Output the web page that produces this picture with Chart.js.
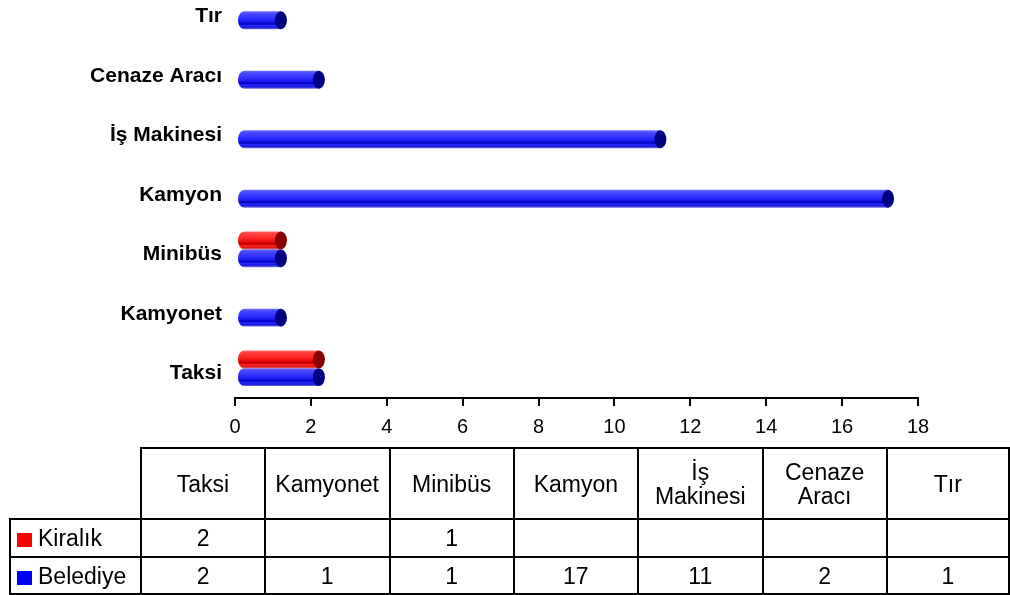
<!DOCTYPE html>
<html>
<head>
<meta charset="utf-8">
<script src="https://cdn.jsdelivr.net/npm/chart.js@4/dist/chart.umd.min.js"></script>
<style>
  html, body { margin: 0; padding: 0; background: #fff; width: 1010px; height: 595px; overflow: hidden; position: relative; font-family: "Liberation Sans", Arial, sans-serif; }
  #wrap { position: absolute; left: 0; top: -44px; width: 1010px; height: 492px; }
  #tbl { position: absolute; left: 9px; top: 447px; border-collapse: collapse; table-layout: fixed; font-size: 23px; color: #000; }
  #tbl td { border: 2px solid #000; text-align: center; vertical-align: middle; padding: 0 6px; line-height: 24px; }
  #tbl td.corner { border: none; }
  #tbl td.leg { text-align: left; padding-left: 6px; padding-right: 0; white-space: nowrap; }
  .sw { display: inline-block; width: 15px; height: 14px; margin-right: 6px; vertical-align: -1px; }
</style>
</head>
<body>
<div id="wrap"><canvas id="c" width="1010" height="492"></canvas></div>
<table id="tbl"></table>
<script>
// ---- data ----
const categories = ["Tır", "Cenaze Aracı", "İş Makinesi", "Kamyon", "Minibüs", "Kamyonet", "Taksi"];
const kiralik   = [null, null, null, null, 1, null, 2];
const belediye  = [1, 2, 11, 17, 1, 1, 2];
const seriesNames = ["Kiralık", "Belediye"];
const xTicks = [0, 2, 4, 6, 8, 10, 12, 14, 16, 18];
// table order (bottom-to-top of chart)
const tableCategories = categories.slice().reverse();

const FONT = '"Liberation Sans", Arial, sans-serif';

const styles = [
  { stops: [[0,'#ff6a6a'],[0.12,'#ff4040'],[0.35,'#ff2a2a'],[0.55,'#f01010'],[0.66,'#d00000'],[0.72,'#b80000'],[0.78,'#ff2020'],[0.9,'#e01a1a'],[1,'#d87070']], cap: '#8a0000', main: '#ff0000' },
  { stops: [[0,'#7070ff'],[0.12,'#4a4aff'],[0.35,'#3535ff'],[0.55,'#2020f5'],[0.66,'#0a0ad8'],[0.72,'#0000b8'],[0.78,'#2a2aff'],[0.9,'#1818e0'],[1,'#7878d8']], cap: '#000080', main: '#0000ff' }
];

const cylinderPlugin = {
  id: 'cylinders',
  beforeDatasetDraw(chart, args) {
    const ctx = chart.ctx;
    const meta = args.meta;
    const st = styles[args.index];
    const dx = 8;
    ctx.save();
    meta.data.forEach((bar, i) => {
      const v = chart.data.datasets[args.index].data[i];
      if (v === null || v === undefined) return;
      const p = bar.getProps(['x', 'y', 'base', 'height'], true);
      const h = p.height;
      const top = p.y - h / 2, bot = p.y + h / 2;
      const xs = p.base + dx, xe = p.x + dx;
      const rx = 6, ry = h / 2;
      const g = ctx.createLinearGradient(0, top, 0, bot);
      st.stops.forEach(s => g.addColorStop(s[0], s[1]));
      ctx.beginPath();
      ctx.ellipse(xs, p.y, rx, ry, 0, Math.PI / 2, Math.PI * 1.5);
      ctx.lineTo(xe, top);
      ctx.lineTo(xe, bot);
      ctx.closePath();
      ctx.fillStyle = g;
      ctx.fill();
      ctx.beginPath();
      ctx.ellipse(xe, p.y, rx, ry, 0, 0, Math.PI * 2);
      ctx.fillStyle = st.cap;
      ctx.fill();
    });
    ctx.restore();
    return false;
  }
};

new Chart(document.getElementById('c'), {
  type: 'bar',
  data: {
    labels: categories,
    datasets: [
      { label: seriesNames[0], data: kiralik, backgroundColor: styles[0].main, categoryPercentage: 0.6, barPercentage: 1 },
      { label: seriesNames[1], data: belediye, backgroundColor: styles[1].main, categoryPercentage: 0.6, barPercentage: 1 }
    ]
  },
  options: {
    indexAxis: 'y',
    responsive: false,
    animation: false,
    layout: { autoPadding: false, padding: { top: 13.5, right: 92, left: 0, bottom: 0 } },
    plugins: { legend: { display: false }, tooltip: { enabled: false } },
    scales: {
      x: {
        min: 0, max: 18,
        afterFit(s) { s.height = 50; },
        afterBuildTicks(s) { s.ticks = xTicks.map(v => ({ value: v })); },
        grid: { drawOnChartArea: false, drawTicks: true, tickLength: 8, color: '#000', lineWidth: 2 },
        border: { display: true, color: '#000', width: 2 },
        ticks: { color: '#000', padding: 9, font: { family: FONT, size: 20 } }
      },
      y: {
        afterFit(s) { s.width = 235; },
        grid: { display: false, drawTicks: false },
        border: { display: false },
        ticks: { color: '#000', padding: 13, labelOffset: 5, font: { family: FONT, size: 21, weight: 'bold' } }
      }
    }
  },
  plugins: [cylinderPlugin]
});

// ---- data table ----
const tbl = document.getElementById('tbl');
const colW = 125.3;
let html = '<colgroup><col style="width:132px">' + tableCategories.map(() => '<col style="width:' + colW + 'px">').join('') + '</colgroup>';
html += '<tr style="height:71px"><td class="corner"></td>' + tableCategories.map(c => '<td>' + c + '</td>').join('') + '</tr>';
const rows = [
  { name: seriesNames[0], color: styles[0].main, vals: kiralik.slice().reverse(), h: 38 },
  { name: seriesNames[1], color: styles[1].main, vals: belediye.slice().reverse(), h: 37 }
];
rows.forEach(r => {
  html += '<tr style="height:' + r.h + 'px"><td class="leg"><span class="sw" style="background:' + r.color + '"></span>' + r.name + '</td>' +
    r.vals.map(v => '<td>' + (v === null ? '' : v) + '</td>').join('') + '</tr>';
});
tbl.innerHTML = html;
</script>
</body>
</html>
